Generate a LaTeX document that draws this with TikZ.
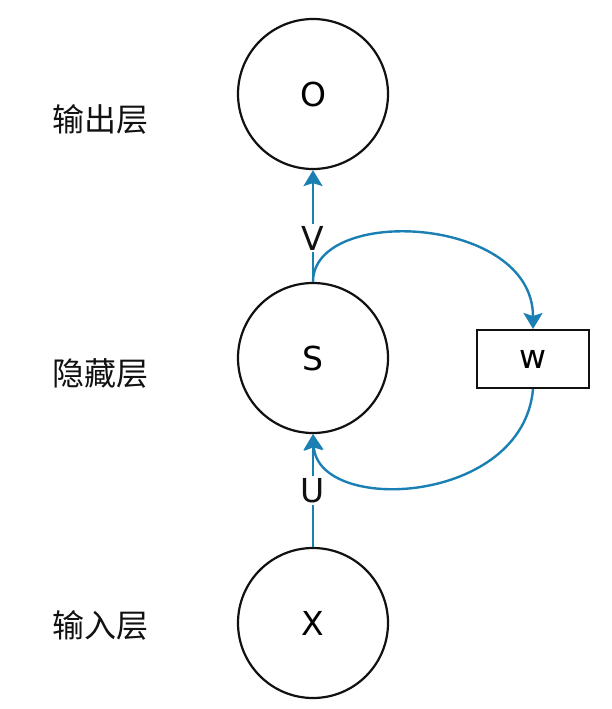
\documentclass[tikz,border=0pt]{standalone}
\usepackage{fontspec}
\setmainfont{Noto Sans CJK SC}
\newfontfamily\letterfont{DejaVu Sans}
\usepackage{tikz}
\usetikzlibrary{arrows.meta}
\usepackage{xcolor}
\definecolor{ink}{HTML}{111111}
\definecolor{link}{HTML}{1A80B4}
\tikzset{unit/.style={draw=ink,circle,line width=2.2pt,minimum size=150pt,inner sep=0pt,font=\letterfont\fontsize{33}{36}\selectfont},weightbox/.style={draw=ink,rectangle,line width=2pt,minimum width=112pt,minimum height=58pt,inner sep=0pt,font=\letterfont\fontsize{33}{36}\selectfont},layername/.style={font=\fontsize{32}{36}\selectfont,text=ink},flow/.style={draw=link,line width=2.4pt,-{Stealth[length=16pt,width=19pt,inset=3pt]}},tag/.style={fill=white,inner sep=2pt,font=\letterfont\fontsize{33}{36}\selectfont,text=ink}}

\begin{document}
\begin{tikzpicture}[x=1pt,y=-1pt]
\useasboundingbox (0,0) rectangle (612,709);
\node[unit] (out) at (313,94) {O};
\node[unit] (hid) at (313,358) {S};
\node[unit] (in) at (313,623) {X};
\node[weightbox] (w) at (533,359) {w};
\node[layername] (outname) at (100,119) {输出层};
\node[layername] (hidname) at (100,373) {隐藏层};
\node[layername] (inname) at (100,625) {输入层};
\draw[flow] (hid.north) -- node[tag,pos=.39] {V} (out.south);
\draw[flow] (in.north) -- node[tag] {U} (hid.south);
\draw[flow] (hid.north) .. controls (313,205) and (533,215) .. (w.north);
\draw[flow] (w.south) .. controls (523,505) and (318,515) .. (hid.south);
\end{tikzpicture}
\end{document}
